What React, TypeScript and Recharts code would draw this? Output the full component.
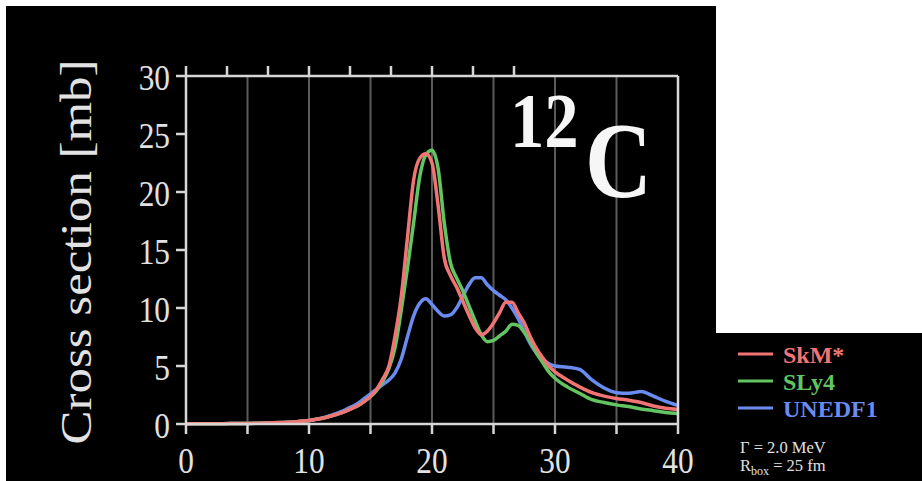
import React from 'react';
import { LineChart, Line, XAxis, YAxis, CartesianGrid, Legend } from 'recharts';

// Excitation energy grid [MeV]
const energy = [
  0, 1, 2, 3, 4, 5, 6, 7, 8, 9, 10,
  10.5, 11, 11.5, 12, 12.5, 13, 13.5, 14, 14.5, 15, 15.5, 16, 16.5, 17, 17.5, 18, 18.5, 19, 19.5, 20,
  20.5, 21, 21.5, 22, 22.5, 23, 23.5, 24, 24.5, 25, 25.5, 26, 26.5, 27, 27.5, 28, 28.5, 29, 29.5, 30,
  31, 32, 33, 34, 35, 36, 37, 38, 39, 40,
];

// Photoabsorption cross sections [mb]
const skm = [
  0.02, 0.02, 0.03, 0.03, 0.04, 0.05, 0.07, 0.1, 0.14, 0.2, 0.3,
  0.38, 0.48, 0.6, 0.75, 0.92, 1.12, 1.35, 1.6, 1.95, 2.4, 3.0, 3.9, 5.0, 7.6, 11.0, 16.0, 21.0, 22.9, 23.3, 22.5,
  18.8, 14.3, 12.8, 11.8, 10.6, 9.4, 8.3, 7.7, 8.0, 8.7, 9.6, 10.5, 10.5, 9.6, 8.7, 7.5, 6.5, 5.7, 5.0, 4.5,
  3.8, 3.2, 2.7, 2.4, 2.2, 2.05, 1.85, 1.55, 1.35, 1.25,
];
const sly4 = [
  0.02, 0.02, 0.03, 0.03, 0.04, 0.05, 0.07, 0.1, 0.14, 0.2, 0.3,
  0.38, 0.48, 0.6, 0.75, 0.92, 1.12, 1.35, 1.6, 1.95, 2.35, 2.9, 3.7, 4.8, 6.6, 9.8, 13.4, 17.3, 21.3, 23.2, 23.6,
  22.0, 17.3, 13.9, 12.6, 11.5, 10.2, 8.9, 7.7, 7.1, 7.2, 7.6, 8.0, 8.6, 8.5, 7.9, 7.1, 6.1, 5.3, 4.5, 3.95,
  3.2, 2.65, 2.1, 1.85, 1.65, 1.5, 1.3, 1.15, 1.0, 0.9,
];
const unedf1 = [
  0.02, 0.02, 0.03, 0.03, 0.04, 0.05, 0.07, 0.1, 0.14, 0.2, 0.3,
  0.4, 0.5, 0.65, 0.82, 1.02, 1.25, 1.5, 1.8, 2.2, 2.6, 3.0, 3.4, 3.8, 4.4, 5.6, 7.5, 9.3, 10.4, 10.8, 10.3,
  9.7, 9.3, 9.4, 10.0, 11.0, 12.0, 12.6, 12.6, 12.0, 11.5, 11.1, 10.7, 10.0, 9.1, 8.0, 6.9, 6.1, 5.6, 5.2, 5.0,
  4.9, 4.7, 3.8, 3.1, 2.7, 2.65, 2.8, 2.4, 1.95, 1.6,
];

const xTicks = [0, 5, 10, 15, 20, 25, 30, 35, 40];
const yTicks = [0, 5, 10, 15, 20, 25, 30];

const seriesNames = ['SkM*', 'SLy4', 'UNEDF1'];
const seriesKeys = ['skm', 'sly4', 'unedf1'];
const seriesColors = ['#f07474', '#62c562', '#6a8cf0'];

const nucleusMass = '12';
const nucleusSymbol = 'C';
const yTitle = 'Cross section [mb]';
const widthNote = 'Γ = 2.0 MeV';
const boxNote = { sym: 'R', sub: 'box', rest: ' = 25 fm' };

const data = energy.map((e, i) => ({ e, skm: skm[i], sly4: sly4[i], unedf1: unedf1[i] }));

const SERIF = '"Liberation Serif", "DejaVu Serif", serif';
const FRAME = '#d6d6d6';
const TEXT = '#e2e2e2';

const BottomTick = (props: any) => {
  const { x, y, payload } = props;
  if (payload.value % 10 !== 0) return <g />;
  return (
    <g transform={`translate(${x},${y + 37}) scale(0.87,1)`}>
      <text x={0} y={0} textAnchor="middle" fill={TEXT} fontFamily={SERIF} fontSize={36}>
        {payload.value}
      </text>
    </g>
  );
};

const LeftTick = (props: any) => {
  const { x, y, payload } = props;
  return (
    <g transform={`translate(${x - 4},${y}) scale(0.87,1)`}>
      <text x={0} y={0} dy="0.38em" textAnchor="end" fill={TEXT} fontFamily={SERIF} fontSize={36}>
        {payload.value}
      </text>
    </g>
  );
};

const NoLabel = () => <g />;

const LegendPanel = () => (
  <svg width={206} height={148} style={{ display: 'block' }}>
    {seriesNames.map((name, i) => (
      <g key={name}>
        <line x1={22} x2={57} y1={21 + i * 27} y2={21 + i * 27} stroke={seriesColors[i]} strokeWidth={3} />
        <text x={67} y={30 + i * 27} fill={seriesColors[i]} fontFamily={SERIF} fontWeight="bold" fontSize={24}>
          {name}
        </text>
      </g>
    ))}
    <text x={24} y={120} fill={TEXT} fontFamily={SERIF} fontSize={16.5}>
      {widthNote}
    </text>
    <text x={24} y={138} fill={TEXT} fontFamily={SERIF} fontSize={16.5}>
      {boxNote.sym}
      <tspan fontSize={12} dy={4}>{boxNote.sub}</tspan>
      <tspan dy={-4}>{boxNote.rest}</tspan>
    </text>
  </svg>
);

export default function App() {
  return (
    <div style={{ position: 'absolute', left: 0, top: 0, width: 922, height: 481, background: '#ffffff', overflow: 'hidden' }}>
      <div style={{ position: 'absolute', left: 6, top: 6, width: 710, height: 475, background: '#000' }} />
      <div style={{ position: 'absolute', left: 716, top: 333, width: 206, height: 148, background: '#000' }} />
      <div style={{ position: 'absolute', left: 0, top: 0 }}>
        <LineChart
          width={922}
          height={481}
          data={data}
          margin={{ top: 56, right: 224, bottom: 17, left: 126 }}
        >
          <CartesianGrid
            xAxisId="b"
            yAxisId="l"
            horizontal={false}
            stroke="#5a5a5a"
            strokeWidth={2}
          />
          <XAxis
            xAxisId="b"
            dataKey="e"
            type="number"
            domain={[0, 40]}
            ticks={xTicks}
            interval={0}
            height={40}
            stroke={FRAME}
            strokeWidth={2.5}
            tickSize={10}
            tick={BottomTick}
          />
          <XAxis
            xAxisId="t"
            orientation="top"
            type="number"
            domain={[0, 40]}
            ticks={xTicks}
            interval={0}
            height={20}
            stroke={FRAME}
            strokeWidth={2.5}
            tickSize={10}
            tick={NoLabel}
          />
          <YAxis
            yAxisId="l"
            type="number"
            domain={[0, 30]}
            ticks={yTicks}
            interval={0}
            width={60}
            stroke={FRAME}
            strokeWidth={2.5}
            tickSize={10}
            tick={LeftTick}
          />
          <YAxis
            yAxisId="r"
            orientation="right"
            type="number"
            domain={[0, 30]}
            ticks={yTicks}
            interval={0}
            width={20}
            stroke={FRAME}
            strokeWidth={2.5}
            tickSize={10}
            tick={NoLabel}
          />
          {[2, 1, 0].map((i) => (
            <Line
              key={seriesKeys[i]}
              xAxisId="b"
              yAxisId="l"
              type="monotone"
              dataKey={seriesKeys[i]}
              name={seriesNames[i]}
              stroke={seriesColors[i]}
              strokeWidth={3.5}
              dot={false}
              isAnimationActive={false}
            />
          ))}
          <Legend
            layout="vertical"
            align="center"
            verticalAlign="middle"
            content={LegendPanel}
            wrapperStyle={{ left: 716, top: 333, width: 206, height: 148 }}
          />
          <text
            transform="translate(91,252) scale(0.86,1) rotate(-90)"
            textAnchor="middle"
            fill={TEXT}
            fontFamily={SERIF}
            fontSize={51}
          >
            {yTitle}
          </text>
          <text transform="translate(510,147) scale(0.88,1)" fill="#f6f6f6" fontFamily={SERIF} fontWeight="bold" fontSize={78}>
            {nucleusMass}
          </text>
          <text transform="translate(585,197) scale(0.86,1)" fill="#f6f6f6" fontFamily={SERIF} fontWeight="bold" fontSize={108}>
            {nucleusSymbol}
          </text>
        </LineChart>
      </div>
    </div>
  );
}
